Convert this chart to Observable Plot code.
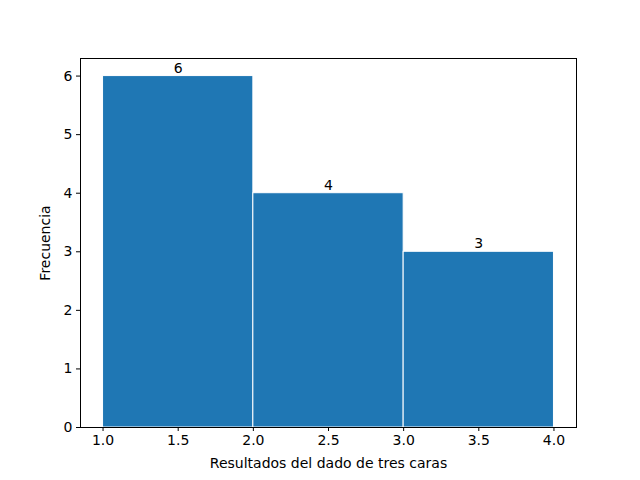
<!DOCTYPE html>
<html>
<head>
<meta charset="utf-8">
<script src="https://cdn.jsdelivr.net/npm/d3@7"></script>
<script src="https://cdn.jsdelivr.net/npm/@observablehq/plot@0.6"></script>
<style>
body { margin: 0; background: #fff; }
svg { font-family: "DejaVu Sans", sans-serif; }
</style>
</head>
<body>
<div id="chart"></div>
<script>
const binStarts = [1, 2, 3];
const binEnds = [2, 3, 4];
const counts = [6, 4, 3];
const xTicks = [1.0, 1.5, 2.0, 2.5, 3.0, 3.5, 4.0];
const yTicks = [0, 1, 2, 3, 4, 5, 6];

const data = counts.map((c, i) => ({x1: binStarts[i], x2: binEnds[i], y: c}));

const chart = Plot.plot({
  width: 640,
  height: 480,
  marginLeft: 80,
  marginRight: 64,
  marginTop: 58,
  marginBottom: 53,
  style: {fontFamily: "DejaVu Sans, sans-serif", fontSize: "14px", color: "#000", background: "#fff"},
  x: {domain: [0.85, 4.15], ticks: xTicks, tickFormat: d3.format(".1f"), label: "Resultados del dado de tres caras", labelAnchor: "center", labelArrow: "none", labelOffset: 40, tickSize: 4, tickPadding: 4},
  y: {domain: [0, 6.3], ticks: yTicks, tickFormat: d3.format("d"), label: "Frecuencia", labelAnchor: "center", labelArrow: "none", labelOffset: 40, tickSize: 4, tickPadding: 4},
  marks: [
    Plot.rectY(data, {x1: "x1", x2: "x2", y: "y", fill: "#1f77b4", stroke: "#fff", strokeWidth: 1, inset: 0}),
    Plot.text(data, {x: d => (d.x1 + d.x2) / 2, y: "y", text: d => String(d.y), dy: -8, fill: "#000", fontSize: 14}),
    Plot.frame({stroke: "#000", strokeWidth: 1})
  ]
});
document.getElementById("chart").appendChild(chart);
</script>
</body>
</html>
